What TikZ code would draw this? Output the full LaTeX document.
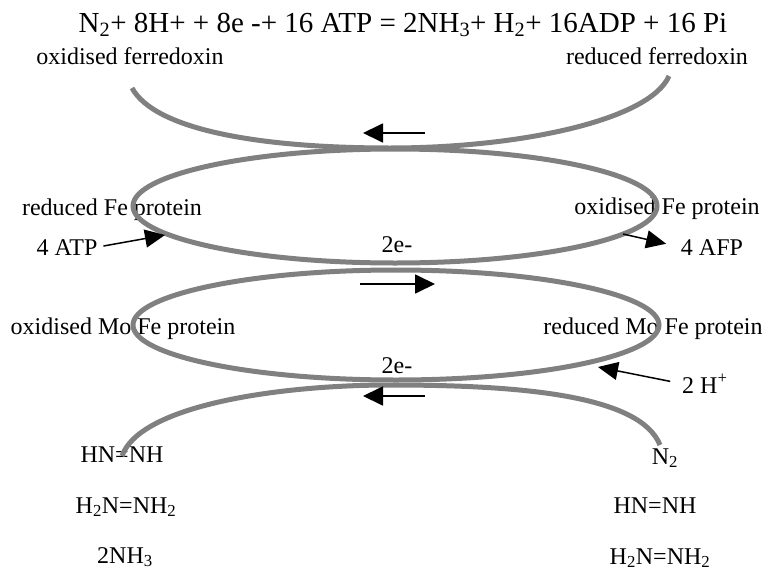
\documentclass[tikz,border=0pt]{standalone}
\usepackage{fontspec}
\setmainfont{Liberation Serif}
\usepackage{tikz}
\usetikzlibrary{arrows.meta}
\tikzset{
lbl/.style={font=\fontsize{24}{29}\selectfont, anchor=base, inner sep=0pt}, % every text label
cycle line/.style={draw=gray, line width=5pt}, % the thick grey loops
flow/.style={-{Triangle[length=20pt,width=19pt]}, line width=1.8pt}, % electron flow arrows
side/.style={-{Triangle[length=20pt,width=18pt]}, line width=1.5pt}, % ATP, AFP and H+ arrows
}

\begin{document}
\begin{tikzpicture}[x=1pt, y=-1pt]
                \useasboundingbox (0,0) rectangle (764,573);
                % labels
                \node[lbl, font=\fontsize{29}{34}\selectfont] (eqn) at (403,32)
                    {N\textsubscript{2}+ 8H+ + 8e -+ 16 ATP = 2NH\textsubscript{3}+ H\textsubscript{2}+ 16ADP + 16 Pi};
                \node[lbl] (oxfd) at (130,64) {oxidised ferredoxin};
                \node[lbl] (redfd) at (657,64) {reduced ferredoxin};
                \node[lbl] (redfe) at (112,215) {reduced Fe protein};
                \node[lbl] (oxfe) at (667,214) {oxidised Fe protein};
                \node[lbl] (atp) at (67,255) {4 ATP};
                \node[lbl] (afp) at (712,255) {4 AFP};
                \node[lbl] (etop) at (397,252) {2e-};
                \node[lbl] (oxmofe) at (123,334) {oxidised Mo Fe protein};
                \node[lbl] (redmofe) at (653,334) {reduced Mo Fe protein};
                \node[lbl] (ebot) at (397,373) {2e-};
                \node[lbl, anchor=base west] (hplus) at (682,393) {2 H\textsuperscript{+}};
                \node[lbl] (leftA) at (122,462) {HN=NH};
                \node[lbl] (leftB) at (126,513) {H\textsubscript{2}N=NH\textsubscript{2}};
                \node[lbl] (leftC) at (125,563) {2NH\textsubscript{3}};
                \node[lbl] (rightA) at (665,464) {N\textsubscript{2}};
                \node[lbl] (rightB) at (655,513) {HN=NH};
                \node[lbl] (rightC) at (660,564) {H\textsubscript{2}N=NH\textsubscript{2}};
                % points on the loops
                \coordinate (fdl) at (132,88);
                \coordinate (fdr) at (669,76);
                \coordinate (topc) at (390,148);
                \coordinate (fe) at (395,206);
                \coordinate (mofe) at (396,325);
                \coordinate (nl) at (122,456);
                \coordinate (nr) at (660,445);
                \coordinate (botc) at (390,385);
                \coordinate (atptip) at (165,235);
                \coordinate (afpfrom) at (623,234);
                \coordinate (htip) at (598,367);
                \coordinate (f1) at (425,133);
                \coordinate (f2) at (363,133);
                \coordinate (f3) at (360,284);
                \coordinate (f4) at (435,284);
                \coordinate (f5) at (425,396);
                \coordinate (f6) at (363,396);
                % loops
                \draw[cycle line] (fdl) .. controls (155,130) and (260,148) .. (topc)
                    .. controls (520,148) and (650,120) .. (fdr);
                \draw[cycle line] (fe) ellipse [x radius=262pt, y radius=57pt];
                \draw[cycle line] (mofe) ellipse [x radius=263pt, y radius=55pt];
                \draw[cycle line] (nl) .. controls (140,405) and (280,385) .. (botc)
                    .. controls (520,385) and (640,395) .. (nr);
                % arrows
                \draw[flow] (f1) -- (f2);
                \draw[flow] (f3) -- (f4);
                \draw[flow] (f5) -- (f6);
                \draw[side, shorten <=6pt] (atp.east) -- (atptip);
                \draw[side, shorten >=15pt] (afpfrom) -- (afp.west);
                \draw[side, shorten <=12pt] (hplus.west) -- (htip);
\end{tikzpicture}
\end{document}
